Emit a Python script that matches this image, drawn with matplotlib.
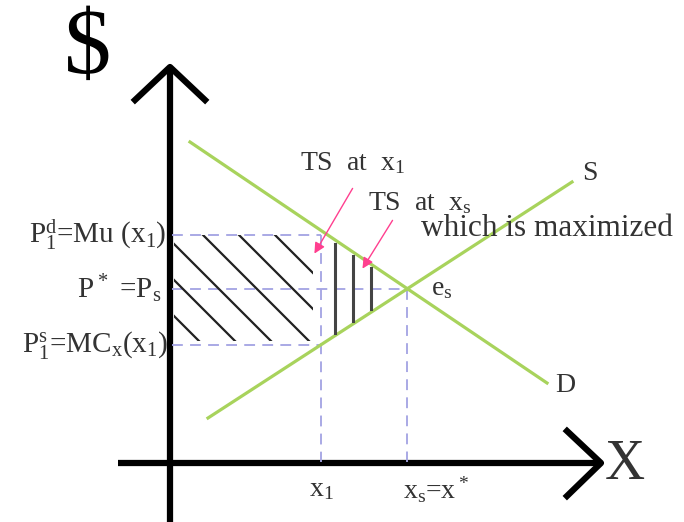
import numpy as np
import matplotlib
matplotlib.use("Agg")
import matplotlib.pyplot as plt
import matplotlib.patches as patches

plt.rcParams["font.family"] = ["Liberation Serif", "DejaVu Serif"]
plt.rcParams["mathtext.default"] = "regular"

# --- data (pixel units) ---
demand_x = [190, 547]
demand_y = [142, 383]
supply_x = [208, 572]
supply_y = [418, 182]

x1 = 321
x_star = 407
p1_d = 235
p_star = 289
p1_s = 345

diag_offsets = [-40, -4, 32, 70, 106, 142]   # y - x of the slanted hatch
vert_hatch_x = [335, 353, 371]

GREEN = "#a8d35c"
DASH = "#a3a3e3"
PINK = "#ff3f8f"

fig = plt.figure(figsize=(6.84, 5.22), dpi=100)
ax = fig.add_axes([0, 0, 1, 1])
ax.set_xlim(0, 684)
ax.set_ylim(522, 0)
ax.axis("off")

# --- axes with open arrow heads ---
ax.plot([170, 170], [522, 67], color="black", lw=4.5, solid_capstyle="butt")
ax.plot([135, 170, 205], [100, 67, 100], color="black", lw=4.5)
ax.plot([118, 600], [463, 463], color="black", lw=4.5, solid_capstyle="butt")
ax.plot([567, 601, 567], [431, 463, 496], color="black", lw=4.5)

# --- dashed guides ---
dash_kw = dict(color=DASH, lw=1.3, dashes=(6, 4))
ax.plot([172, x1], [p1_d, p1_d], **dash_kw)
ax.plot([172, x_star], [p_star, p_star], **dash_kw)
ax.plot([172, x1], [p1_s, p1_s], **dash_kw)
ax.plot([x1, x1], [p1_d, 462], **dash_kw)
ax.plot([x_star, x_star], [p_star, 462], **dash_kw)

# --- demand and supply ---
ax.plot(demand_x, demand_y, color=GREEN, lw=2.3)
ax.plot(supply_x, supply_y, color=GREEN, lw=2.3)

# --- slanted hatch inside the rectangle ---
clip = patches.Rectangle((174, p1_d), x1 - 8 - 174, p1_s - 4 - p1_d,
                         transform=ax.transData, fill=False, lw=0)
ax.add_patch(clip)
xs = np.array([150, 360])
for b in diag_offsets:
    ln, = ax.plot(xs, xs + b, color="#222222", lw=1.6)
    ln.set_clip_path(clip)

# --- vertical hatch inside the triangle ---
for vx in vert_hatch_x:
    top = np.interp(vx, demand_x, demand_y) + 4
    bot = np.interp(vx, supply_x, supply_y) - 3
    ax.plot([vx, vx], [top, bot], color="#444444", lw=2.2)

# --- pink pointers ---
arrow_kw = dict(arrowstyle="-|>", color=PINK, lw=1.0, mutation_scale=16)
ax.annotate("", xy=(313, 256), xytext=(354, 186), arrowprops=arrow_kw)
ax.annotate("", xy=(361, 271), xytext=(394, 218), arrowprops=arrow_kw)

# --- labels ---
fs = 20
tc = "#333333"
ax.text(88, 50, "$", fontsize=68, ha="center", va="center", color="black")
ax.text(625, 465, "X", fontsize=40, ha="center", va="center", color=tc)
ax.text(590, 173, "S", fontsize=fs, ha="center", va="center", color=tc)
ax.text(565, 385, "D", fontsize=fs, ha="center", va="center", color=tc)
ax.text(431, 289, "e$_s$", fontsize=fs, ha="left", va="center", color=tc)

ax.text(300, 163, "TS  at  x$_1$", fontsize=fs, ha="left", va="center", color=tc)
ax.text(368, 203, "TS  at  x$_s$", fontsize=fs, ha="left", va="center", color=tc)
ax.text(421, 228, "which is maximized", fontsize=22.5, ha="left", va="center", color=tc)

ax.text(166, p1_d, "P$_1^d$=Mu (x$_1$)", fontsize=21, ha="right", va="center", color=tc)
ax.text(162, p_star, "P$^*$ =P$_s$", fontsize=21, ha="right", va="center", color=tc)
ax.text(168, p1_s, "P$_1^s$=MC$_x$(x$_1$)", fontsize=21, ha="right", va="center", color=tc)

ax.text(x1, 490, "x$_1$", fontsize=fs, ha="center", va="center", color=tc)
ax.text(403, 490, "x$_s$=x$^*$", fontsize=fs, ha="left", va="center", color=tc)

fig.savefig("out.png", dpi=100)
